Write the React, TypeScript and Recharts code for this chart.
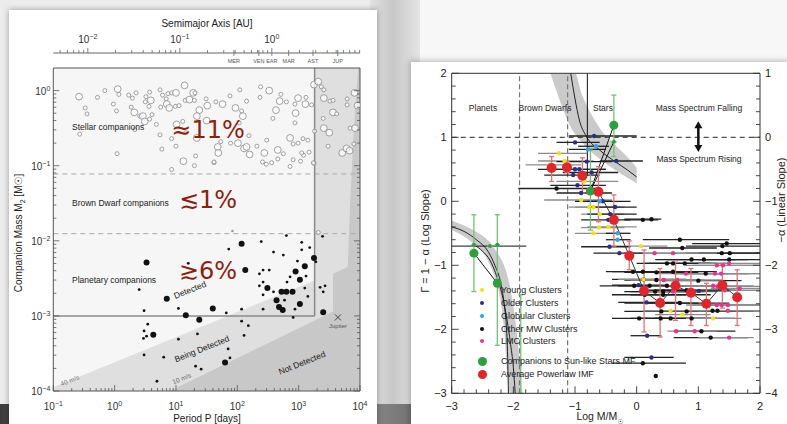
import React from 'react';
import { Area, ComposedChart, ErrorBar, Line, ReferenceLine, Scatter, XAxis, YAxis } from 'recharts';

const FONT = '"Liberation Sans", "DejaVu Sans", Arial, sans-serif';
const ink = '#555';

/* ---------------- left panel: companion mass vs period (log10 values) ---------------- */

// [log P (days), log M2 (Msun), size 1|2]
const stellarCompanions = [
  [-0.58, -0.08, 2], [-0.48, -0.23, 1], [-0.45, -0.31, 1], [-0.57, -0.58, 1], [-0.28, -0.09, 1],
  [-0.16, 0.0, 1], [0.05, 0.02, 2], [0.07, -0.05, 1], [-0.02, -0.18, 1], [0.03, -0.27, 1],
  [0.04, -0.84, 1], [0.23, -0.06, 1], [0.35, -0.03, 1], [0.29, -0.1, 1], [0.27, -0.22, 1],
  [0.32, -0.29, 2], [0.41, -0.34, 1], [0.46, -0.34, 2], [0.49, -0.41, 2], [0.33, -0.52, 1],
  [0.51, -0.08, 1], [0.57, -0.02, 1], [0.59, -0.13, 2], [0.5, -0.15, 1], [0.56, -0.21, 1],
  [0.61, -0.32, 1], [0.57, -0.38, 1], [0.68, -0.45, 1], [0.74, -0.59, 1], [0.74, 0.01, 1],
  [0.78, -0.06, 1], [0.84, -0.11, 1], [0.87, -0.04, 1], [0.93, -0.03, 1], [1.0, -0.03, 2],
  [0.75, -0.22, 1], [0.85, -0.18, 2], [0.89, -0.23, 2], [0.99, -0.21, 1], [1.05, -0.2, 1],
  [1.14, 0.07, 2], [1.15, -0.13, 1], [1.22, -0.12, 2], [1.28, -0.03, 2], [1.31, -0.03, 1],
  [1.3, -0.13, 1], [1.49, -0.11, 1], [1.51, -0.2, 2], [1.38, -0.26, 2], [1.34, -0.34, 2],
  [1.5, -0.4, 2], [1.01, -0.45, 2], [1.11, -0.41, 1], [1.34, -0.63, 2], [1.16, -0.56, 1],
  [0.93, -0.64, 1], [1.0, -0.74, 1], [0.77, -0.78, 1], [1.12, -0.94, 2], [1.32, -0.87, 1],
  [1.3, -1.0, 1], [0.93, -1.05, 1], [1.62, -0.96, 1], [1.68, -0.75, 2], [1.69, -0.83, 2],
  [2.01, -0.7, 2], [2.2, -0.85, 2], [2.44, -0.83, 2], [2.56, -0.96, 1], [2.47, -0.98, 1],
  [2.66, -0.79, 2], [2.66, -0.91, 1], [2.86, -1.01, 1], [3.08, -0.86, 1], [3.17, -0.82, 1],
  [3.25, -0.97, 1], [2.04, 0.01, 1], [2.38, 0.05, 1], [2.52, 0.0, 2], [1.88, -0.07, 1],
  [1.65, -0.15, 1], [1.76, -0.18, 2], [1.97, -0.23, 2], [2.07, -0.27, 1], [2.09, -0.34, 2],
  [2.15, -0.14, 1], [2.37, -0.09, 1], [2.71, -0.05, 1], [2.69, -0.14, 2], [2.63, -0.26, 2],
  [2.8, -0.15, 1], [2.94, -0.18, 1], [2.99, -0.1, 2], [3.12, -0.09, 1], [3.11, -0.18, 2],
  [3.21, -0.19, 1], [2.95, -0.3, 2], [2.58, -0.37, 1], [2.94, -0.43, 1], [2.03, -0.43, 1],
  [2.19, -0.6, 1], [2.48, -0.66, 1], [2.86, -0.63, 2], [3.07, -0.64, 1], [2.91, -0.71, 1],
  [2.99, -0.7, 1], [3.15, -0.66, 1], [1.73, -0.68, 1], [1.89, -0.7, 1], [2.11, -0.77, 2],
  [2.15, -0.75, 2], [2.32, -0.74, 1], [2.75, -0.84, 1], [3.05, -0.83, 1], [2.41, -0.95, 1],
  [2.91, -0.92, 1], [3.03, -0.94, 1], [3.24, -0.96, 1], [1.62, -0.95, 1], [3.25, 0.08, 2],
  [3.32, 0.12, 2], [3.37, 0.05, 1], [3.41, 0.01, 1], [3.41, -0.1, 2], [3.51, -0.14, 1],
  [3.56, -0.13, 1], [3.56, -0.29, 2], [3.62, -0.31, 1], [3.79, -0.11, 1], [3.79, -0.19, 1],
  [3.91, -0.03, 2], [3.96, -0.2, 2], [3.4, -0.37, 1], [3.41, -0.5, 2], [3.5, -0.56, 2],
  [3.26, -0.54, 1], [3.48, -0.74, 1], [3.71, -0.83, 2], [3.78, -0.77, 2], [3.83, -0.8, 2],
  [3.84, -0.5, 1], [3.92, -0.5, 2], [3.9, -0.71, 1],
];

const planetaryCompanions = [
  [0.52, -2.29, 2], [0.4, -2.65, 1], [0.85, -2.77, 2], [0.48, -2.93, 1], [0.54, -3.11, 1],
  [0.48, -3.2, 1], [0.52, -3.27, 1], [0.47, -3.3, 1], [0.63, -3.25, 2], [0.48, -3.52, 1],
  [0.69, -3.87, 1], [0.8, -3.55, 1], [1.04, -2.9, 1], [1.04, -3.31, 1], [1.16, -2.99, 2],
  [1.2, -2.3, 1], [1.32, -3.67, 1], [1.41, -3.71, 1], [1.35, -3.24, 1], [1.38, -3.05, 2],
  [1.6, -2.9, 2], [1.8, -3.62, 2], [1.82, -2.96, 1], [1.85, -3.44, 1], [1.88, -3.56, 1],
  [1.86, -2.11, 1], [2.07, -2.04, 2], [2.07, -2.91, 1], [2.07, -3.07, 1], [2.13, -2.39, 2],
  [2.11, -3.26, 1], [2.18, -3.13, 1], [2.36, -2.44, 1], [2.36, -2.6, 1], [2.39, -2.01, 1],
  [2.42, -2.39, 1], [2.42, -2.55, 1], [2.42, -2.72, 1], [2.49, -2.63, 2], [2.52, -2.39, 1],
  [2.42, -2.91, 1], [2.59, -2.15, 1], [2.59, -2.68, 1], [2.64, -2.79, 2], [2.72, -2.68, 2],
  [2.68, -2.88, 2], [2.74, -2.92, 2], [2.8, -2.68, 2], [2.9, -2.68, 2], [2.77, -2.79, 1],
  [2.75, -2.19, 1], [2.8, -1.93, 1], [2.81, -2.55, 1], [2.86, -2.48, 1], [2.91, -3.02, 1],
  [2.95, -2.41, 2], [2.94, -2.91, 1], [2.98, -2.27, 1], [3.02, -2.52, 2], [3.02, -2.84, 2],
  [3.05, -2.12, 1], [3.05, -2.02, 1], [3.1, -2.34, 2], [3.12, -2.47, 1], [3.1, -2.63, 1],
  [3.15, -2.74, 1], [3.18, -2.09, 1], [3.25, -2.23, 2], [3.28, -2.28, 1], [3.4, -2.95, 2],
  [3.39, -1.94, 1], [3.35, -2.62, 1], [3.43, -2.6, 1], [3.4, -2.68, 1],
];

const marginalDots = [[1.92, -1.87]];
const marginalRings = [[3.32, -1.89]];
const jupiter = [[3.64, -3.02]];

// upper edges of the "being detected" and "not detected" zones
const edge40ms = [[-1, -3.95], [3.26, -2.53], [3.26, 0.302], [4, 0.302]];
const edge10ms = [
  [0.9, -4], [3.56, -2.94], [3.56, -2.44], [3.8, -2.35], [3.84, -1.5], [3.9, -0.5], [3.97, 0.302], [4, 0.302],
];
const baselineLogP = 3.26;
const planetLimitLogM = -3;
const hBurningLogM = -1.11;
const dBurningLogM = -1.905;

const auMajor = [0.01, 0.1, 1];
const auMinor = [
  0.005, 0.006, 0.007, 0.008, 0.009, 0.02, 0.03, 0.04, 0.05, 0.06, 0.07, 0.08, 0.09,
  0.2, 0.3, 0.4, 0.5, 0.6, 0.7, 0.8, 0.9, 2, 3, 4, 5, 6, 7, 8, 9,
];
const solarSystem = [
  { name: 'MER', a: 0.387 }, { name: 'VEN', a: 0.723 }, { name: 'EAR', a: 1 },
  { name: 'MAR', a: 1.524 }, { name: 'AST', a: 2.8 }, { name: 'JUP', a: 5.2 },
];

/* ---------------- right panel: mass-function slope ---------------- */

// [log M, Gamma, log M low, log M high]
const youngClusters = [
  [-1.26, 0.75, -1.6, -0.8], [-1.17, 0.63, -1.6, -0.7], [-1.41, 0.57, -1.8, -0.9], [-0.85, 0.31, -1.3, -0.3],
  [-0.9, 0.02, -1.5, -0.4], [-0.77, -0.09, -1.1, -0.2], [-0.7, -0.09, -1.0, -0.3], [-0.6, -0.2, -0.9, -0.2],
  [-0.61, -0.41, -0.9, -0.2], [-0.46, -0.4, -0.8, 0.0], [-0.7, -0.5, -1.0, -0.3], [0.07, -0.7, -0.4, 0.5],
  [0.11, -1.22, -0.3, 0.6], [0.55, -1.71, 0.1, 1.1], [0.74, -1.77, 0.3, 1.2], [1.24, -1.83, 0.8, 1.7],
];
const olderClusters = [
  [-0.69, 1.02, -1.1, 0.0], [-1.0, 0.92, -1.3, -0.6], [-0.33, 0.63, -0.6, 0.1], [-0.81, 0.62, -1.3, -0.4],
  [-1.0, 0.5, -1.6, -0.5], [-0.93, 0.5, -1.4, -0.5], [-0.73, 0.45, -1.2, -0.3], [-1.03, 0.41, -1.5, -0.6],
  [-0.96, 0.25, -1.4, -0.5], [-0.9, 0.13, -1.3, -0.4], [-0.55, 0.0, -1.0, -0.1], [-0.35, -0.09, -0.8, 0.0],
  [-0.43, -0.2, -0.8, 0.0], [-0.46, -0.29, -0.9, -0.1], [-0.44, -0.71, -0.9, -0.1], [-0.28, -0.81, -0.7, 0.1],
  [0.03, -1.31, -0.4, 0.5], [1.01, -1.4, 0.5, 1.5], [0.16, -1.58, -0.3, 0.7], [0.17, -2.1, -0.1, 0.4],
  [0.24, -2.44, -0.2, 0.6],
];
const globularClusters = [
  [-0.66, 0.86, -0.95, -0.45], [-0.79, 0.81, -1.1, -0.5], [-0.6, 0.0, -0.8, -0.4],
  [-0.31, -0.5, -0.5, -0.1], [-0.31, -0.6, -0.5, -0.1],
];
const otherMWClusters = [
  [-1.3, 0.2, -1.92, -0.64], [0.1, -0.29, -0.2, 0.35], [0.24, -0.28, -0.2, 0.4], [0.7, -0.6, 0.1, 1.5],
  [0.74, -0.73, 0.2, 1.3], [1.39, -0.7, 0.8, 2.0], [1.46, -0.66, 0.9, 2.0], [1.38, -0.81, 0.8, 2.0],
  [1.51, -0.81, 1.0, 2.0], [0.89, -0.91, 0.3, 1.6], [1.09, -0.91, 0.5, 1.8], [1.5, -0.91, 1.0, 2.0],
  [0.49, -0.97, 0.0, 1.2], [0.59, -0.97, 0.1, 1.3], [0.78, -0.97, 0.2, 1.5], [-0.06, -1.1, -0.5, 0.6],
  [0.1, -1.1, -0.4, 0.8], [0.32, -1.11, -0.2, 1.0], [0.59, -1.1, 0.0, 1.3], [1.12, -1.13, 0.6, 1.8],
  [0.11, -1.22, -0.4, 0.8], [0.32, -1.23, -0.2, 1.0], [1.0, -1.24, 0.4, 1.7], [-0.04, -1.32, -0.6, 0.6],
  [0.21, -1.32, -0.3, 0.9], [0.49, -1.32, 0.0, 1.2], [0.81, -1.39, 0.2, 1.5], [0.88, -1.39, 0.3, 1.6],
  [0.3, -1.41, -0.2, 1.0], [0.43, -1.41, -0.1, 1.1], [0.13, -1.46, -0.4, 0.8], [0.43, -1.46, -0.1, 1.2],
  [0.35, -1.59, -0.2, 1.0], [0.7, -1.59, 0.1, 1.5], [0.4, -1.72, -0.2, 1.2], [0.81, -1.72, 0.3, 1.6],
  [1.23, -1.71, 0.7, 1.9], [1.31, -1.71, 0.8, 2.0], [0.04, -1.83, -0.4, 0.6], [0.39, -1.83, -0.1, 1.1],
  [0.55, -1.83, 0.0, 1.3], [0.89, -1.83, 0.3, 1.6], [1.05, -2.03, 0.6, 1.6], [1.2, -2.13, 0.6, 1.8],
  [0.1, -2.53, -0.4, 0.8], [0.31, -2.73, 0.31, 0.31],
];
const lmcClusters = [
  [0.29, -0.81, -0.2, 0.9], [0.59, -0.81, 0.1, 1.3], [1.3, -1.0, 0.8, 2.0], [1.4, -1.0, 0.9, 2.0],
  [1.5, -0.97, 1.0, 2.0], [0.8, -1.13, 0.3, 1.5], [1.27, -1.13, 0.7, 2.0], [1.37, -1.13, 0.8, 2.0],
  [0.44, -1.23, -0.1, 1.1], [0.66, -1.23, 0.1, 1.4], [0.64, -1.32, 0.1, 1.4], [1.24, -1.32, 0.7, 1.9],
  [1.31, -1.33, 0.8, 2.0], [1.43, -1.39, 0.9, 2.0], [1.67, -1.36, 1.2, 2.0], [0.59, -1.41, 0.1, 1.3],
  [1.3, -1.62, 0.8, 2.0], [1.38, -1.62, 0.9, 2.0], [1.48, -1.62, 1.0, 2.0], [1.48, -1.71, 1.0, 2.0],
  [0.64, -2.03, 0.64, 0.64], [0.94, -2.03, 0.5, 1.3], [1.5, -2.13, 1.0, 1.9],
];

// [log M, Gamma, Gamma low, Gamma high, marker 0|1|2]
const companionsMF = [
  [-2.64, -0.81, -1.41, -0.21, 2], [-2.26, -1.28, -2.25, -0.21, 2], [-1.88, -2.23, -3.0, -1.46, 0],
  [-0.75, 0.16, -0.45, 0.8, 2], [-0.37, 1.19, 0.7, 1.66, 2],
  [-2.64, -0.68, -0.68, -0.68, 1], [-2.38, -0.7, -0.7, -0.7, 1], [-2.26, -0.68, -0.68, -0.68, 1],
  [-0.37, 0.93, 0.93, 0.93, 1],
];
// [log M, Gamma, Gamma low, Gamma high]
const averageIMF = [
  [-1.38, 0.52, 0.31, 0.7], [-1.13, 0.53, 0.45, 0.62], [-0.88, 0.4, 0.13, 0.68], [-0.62, 0.15, -0.32, 0.54],
  [-0.37, -0.29, -0.7, 0.1], [-0.12, -0.85, -1.07, -0.62], [0.12, -1.4, -2.04, -0.76], [0.38, -1.59, -2.12, -1.05],
  [0.63, -1.32, -1.86, -0.95], [0.88, -1.43, -1.94, -1.05], [1.13, -1.6, -1.94, -1.28], [1.39, -1.31, -1.67, -0.98],
  [1.63, -1.5, -1.94, -1.07],
];

// companion-mass conversion curves and their uncertainty bands
const starBand = [
  [-1.4, 2.0, 2.0], [-1.3, 1.72, 2.0], [-1.2, 1.45, 2.0], [-1.1, 1.22, 2.0], [-1.0, 1.05, 2.0],
  [-0.9, 0.93, 1.7], [-0.8, 0.83, 1.48], [-0.65, 0.7, 1.22], [-0.5, 0.59, 1.02], [-0.35, 0.49, 0.88],
  [-0.2, 0.4, 0.74], [-0.1, 0.34, 0.64], [0.0, 0.28, 0.52],
];
const starCurve = [
  [-1.07, 2.0], [-1.0, 1.6], [-0.93, 1.27], [-0.82, 1.02], [-0.6, 0.8], [-0.35, 0.62], [-0.15, 0.49], [0.0, 0.38],
];
const planetBand = [
  [-3.0, -0.45, -0.3], [-2.8, -0.55, -0.38], [-2.6, -0.7, -0.48], [-2.4, -0.95, -0.62], [-2.3, -1.2, -0.75],
  [-2.2, -1.6, -0.9], [-2.15, -2.0, -1.0], [-2.1, -2.7, -1.15], [-2.05, -3.0, -1.35], [-2.0, -3.0, -1.65],
  [-1.95, -3.0, -2.0], [-1.9, -3.0, -2.5], [-1.86, -3.0, -3.0],
];
const planetCurveA = [
  [-3.0, -0.4], [-2.8, -0.47], [-2.6, -0.6], [-2.4, -0.8], [-2.3, -1.0], [-2.2, -1.3], [-2.15, -1.6],
  [-2.1, -2.2], [-2.08, -3.0],
];
const planetCurveB = [
  [-2.64, -0.68], [-2.5, -0.78], [-2.38, -0.92], [-2.26, -1.2], [-2.15, -1.6], [-2.05, -2.2], [-2.0, -2.6], [-1.97, -3.0],
];
const guideSegments = [
  [[-0.8, 2.0], [-0.8, 0.4]],
  [[-0.75, 0.16], [-0.37, 1.19]],
  [[-0.75, 0.16], [-0.37, 0.93]],
  [[-2.64, -0.81], [-2.26, -1.28]],
  [[-3.0, -0.7], [-1.79, -0.7]],
  [[1.0, 1.2], [1.0, 0.82]],
];
const arrowTips = [[1.0, 1.25, -1], [1.0, 0.77, 1]];
const planetLimitLogMass = -1.9;
const stellarLimitLogMass = -1.12;

/* ---------------- helpers ---------------- */

const LOG2 = Math.log10(2);
const toLogP = (a: number) => 2.5626 + 1.5 * Math.log10(a);
const isInt = (v: number) => Math.abs(v - Math.round(v)) < 1e-6;
const minus = (n: number) => (n < 0 ? `−${Math.abs(n)}` : `${n}`);
const pts = (rows: number[][]) => rows.map(([x, y, s]) => ({ x, y, s }));
const range = (rows: number[][]) => rows.map(([x, lo, hi]) => ({ x, y: [lo, hi] }));
const hbars = (rows: number[][]) => rows.map(([x, y, lo, hi]) => ({ x, y, e: [x - lo, hi - x] }));
const vbars = (rows: number[][]) => rows.map(([x, y, lo, hi, s]) => ({ x, y, e: [y - lo, hi - y], s }));

const minorLog = [2, 3, 4, 5, 6, 7, 8, 9].map((k) => Math.log10(k));
const logTicks = (from: number, to: number) => {
  const out: number[] = [];
  for (let d = from; d < to; d++) {
    out.push(d);
    minorLog.forEach((m) => out.push(d + m));
  }
  out.push(to);
  return out;
};
const periodTicks = logTicks(-1, 4);
const massTicks = logTicks(-4, 0);
const auTicks = [...auMajor, ...auMinor, ...solarSystem.map((p) => p.a)]
  .map(toLogP)
  .filter((v) => v >= -1 && v <= 4)
  .sort((a, b) => a - b)
  .filter((v, i, arr) => i === 0 || Math.abs(v - arr[i - 1]) > 1e-6);
const stepTicks = (from: number, n: number) => Array.from({ length: n }, (_, i) => Math.round((from + i * 0.2) * 10) / 10);
const massAxisTicks = stepTicks(-3, 26);
const gammaTicks = stepTicks(-3, 26);
const linearTicks = stepTicks(-4, 26);

type Side = 'left' | 'right' | 'top' | 'bottom';

function logTick(side: Side, labelled: boolean) {
  return (p: any) => {
    const { x, y, payload } = p;
    const v = payload.value;
    const major = isInt(v);
    const len = major ? 6 : 3;
    const x2 = side === 'left' ? x + len : side === 'right' ? x - len : x;
    const y2 = side === 'top' ? y + len : side === 'bottom' ? y - len : y;
    const exp = minus(Math.round(v));
    return (
      <g>
        <line x1={x} y1={y} x2={x2} y2={y2} stroke={ink} strokeWidth={0.8} />
        {labelled && major && side === 'left' && (
          <text x={x - 3} y={y + 4} textAnchor="end" fontSize={10} fill="#333">
            10<tspan dy={-4} fontSize={7}>{exp}</tspan>
          </text>
        )}
        {labelled && major && side === 'bottom' && (
          <text x={x} y={y + 19} textAnchor="middle" fontSize={10} fill="#333">
            10<tspan dy={-4} fontSize={7}>{exp}</tspan>
          </text>
        )}
      </g>
    );
  };
}

// ticks of the semimajor-axis scale; drawn upward from the axis line, planet names below it
function semiTick(p: any) {
  const { x, y, payload } = p;
  const v = payload.value;
  const major = auMajor.find((a) => Math.abs(toLogP(a) - v) < 1e-6);
  const planet = solarSystem.find((s) => Math.abs(toLogP(s.a) - v) < 1e-6);
  return (
    <g>
      <line x1={x} y1={y} x2={x} y2={y - (major ? 5 : 3)} stroke="#666" strokeWidth={0.8} />
      {major !== undefined && (
        <text x={x} y={y - 10} textAnchor="middle" fontSize={10} fill="#333">
          10<tspan dy={-4} fontSize={7}>{minus(Math.round(Math.log10(major)))}</tspan>
        </text>
      )}
      {planet && (
        <>
          <line x1={x} y1={y} x2={x} y2={y + 3} stroke="#666" strokeWidth={0.8} />
          <text x={x} y={y + 10} textAnchor="middle" fontSize={5.5} fill="#555">{planet.name}</text>
        </>
      )}
    </g>
  );
}

function linTick(side: Side, labelled: boolean) {
  return (p: any) => {
    const { x, y, payload } = p;
    const v = payload.value;
    const major = isInt(v);
    const len = major ? 7 : 4;
    const x2 = side === 'left' ? x + len : side === 'right' ? x - len : x;
    const y2 = side === 'top' ? y + len : side === 'bottom' ? y - len : y;
    const label = minus(Math.round(v));
    return (
      <g>
        <line x1={x} y1={y} x2={x2} y2={y2} stroke="#333" strokeWidth={0.9} />
        {labelled && major && side === 'left' && (
          <text x={x - 5} y={y + 4} textAnchor="end" fontSize={11} fill="#222">{label}</text>
        )}
        {labelled && major && side === 'right' && (
          <text x={x + 5} y={y + 4} textAnchor="start" fontSize={11} fill="#222">{label}</text>
        )}
        {labelled && major && side === 'bottom' && (
          <text x={x} y={y + 17} textAnchor="middle" fontSize={11} fill="#222">{label}</text>
        )}
      </g>
    );
  };
}

const Note = ({ x, y, size = 8.5, color = '#222', rotate = 0, start = false, children, family }: any) => (
  <div
    style={{
      position: 'absolute', left: x, top: y, fontSize: size, color, lineHeight: 1, whiteSpace: 'nowrap',
      transform: `translate(${start ? '0' : '-50%'}, -50%) rotate(${rotate}deg)`, fontFamily: family,
    }}
  >
    {children}
  </div>
);

/* ---------------- left chart ---------------- */

function CompanionPanel() {
  const ring = (p: any) => (
    <circle cx={p.cx} cy={p.cy} r={p.payload.s === 2 ? 3.4 : 2} fill="#fff" fillOpacity={0.7} stroke="#8a8a8a" strokeWidth={0.8} />
  );
  const dot = (p: any) => <circle cx={p.cx} cy={p.cy} r={p.payload.s === 2 ? 3 : 1.4} fill="#111" />;
  const cross = (p: any) => (
    <g stroke="#444" strokeWidth={1}>
      <line x1={p.cx - 3} y1={p.cy - 3} x2={p.cx + 3} y2={p.cy + 3} />
      <line x1={p.cx - 3} y1={p.cy + 3} x2={p.cx + 3} y2={p.cy - 3} />
    </g>
  );
  const ax = { xAxisId: 'b', yAxisId: 'l' };
  return (
    <>
      <div style={{ position: 'absolute', left: 53, top: 68, width: 307, height: 323, background: '#f6f6f6' }} />
      {/* semimajor-axis scale, a separate strip above the frame */}
      <div style={{ position: 'absolute', left: 0, top: 0 }}>
        <ComposedChart width={380} height={72} margin={{ top: 52, right: 20, bottom: 6, left: 53.3 }}>
          <XAxis xAxisId="a" orientation="top" type="number" dataKey="x" domain={[-1, 4]} allowDataOverflow ticks={auTicks}
            interval={0} tickSize={0} tickMargin={0} height={1} tick={semiTick} stroke="#666" />
          <YAxis yAxisId="a" type="number" dataKey="y" domain={[0, 1]} hide />
          <Scatter xAxisId="a" yAxisId="a" data={[]} dataKey="y" isAnimationActive={false} />
        </ComposedChart>
      </div>
      <div style={{ position: 'absolute', left: 0, top: 0 }}>
        <ComposedChart width={380} height={424} margin={{ top: 67, right: 19, bottom: 3, left: 8.3 }}>
          <XAxis xAxisId="b" type="number" dataKey="x" domain={[-1, 4]} allowDataOverflow ticks={periodTicks}
            interval={0} tickSize={0} tickMargin={0} height={30} tick={logTick('bottom', true)} stroke={ink} />
          <XAxis xAxisId="t" orientation="top" type="number" domain={[-1, 4]} allowDataOverflow ticks={periodTicks}
            interval={0} tickSize={0} tickMargin={0} height={1} tick={logTick('top', false)} stroke={ink} />
          <YAxis yAxisId="l" type="number" dataKey="y" domain={[-4, LOG2]} allowDataOverflow ticks={massTicks}
            interval={0} tickSize={0} tickMargin={0} width={45} tick={logTick('left', true)} stroke={ink} />
          <YAxis yAxisId="r" orientation="right" type="number" domain={[-4, LOG2]} allowDataOverflow ticks={massTicks}
            interval={0} tickSize={0} tickMargin={0} width={1} tick={logTick('right', false)} stroke={ink} />

          <Area {...ax} data={range(edge40ms.map(([x, y]) => [x, -4, y]))} dataKey="y" type="linear"
            fill="#dfdfdf" fillOpacity={1} stroke="none" isAnimationActive={false} />
          <Area {...ax} data={range(edge10ms.map(([x, y]) => [x, -4, y]))} dataKey="y" type="linear"
            fill="#c8c8c8" fillOpacity={1} stroke="none" isAnimationActive={false} />

          <ReferenceLine {...ax} y={hBurningLogM} stroke="#aaa" strokeDasharray="5 4" />
          <ReferenceLine {...ax} y={dBurningLogM} stroke="#aaa" strokeDasharray="5 4" />
          <ReferenceLine {...ax} segment={[{ x: -1, y: planetLimitLogM }, { x: baselineLogP, y: planetLimitLogM }]}
            stroke="#8a8a8a" strokeWidth={1.5} />
          <ReferenceLine {...ax} segment={[{ x: baselineLogP, y: planetLimitLogM }, { x: baselineLogP, y: LOG2 }]}
            stroke="#8a8a8a" strokeWidth={1.5} />

          <Scatter {...ax} data={pts(stellarCompanions)} dataKey="y" shape={ring} isAnimationActive={false} />
          <Scatter {...ax} data={pts(marginalRings)} dataKey="y" shape={ring} isAnimationActive={false} />
          <Scatter {...ax} data={pts(planetaryCompanions)} dataKey="y" shape={dot} isAnimationActive={false} />
          <Scatter {...ax} data={pts(marginalDots)} dataKey="y" isAnimationActive={false}
            shape={(p: any) => <circle cx={p.cx} cy={p.cy} r={1.3} fill="#999" />} />
          <Scatter {...ax} data={pts(jupiter)} dataKey="y" shape={cross} isAnimationActive={false} />
        </ComposedChart>
      </div>

      <Note x={207} y={24} size={10}>Semimajor Axis [AU]</Note>
      <Note x={207} y={419} size={10}>Period P [days]</Note>
      <Note x={20} y={233} size={10} rotate={-90}>Companion Mass M<sub style={{ fontSize: 7 }}>2</sub> [M☉]</Note>

      <Note x={72} y={127} start>Stellar companions</Note>
      <Note x={72} y={203} start>Brown Dwarf companions</Note>
      <Note x={72} y={280} start>Planetary companions</Note>
      <Note x={208} y={130} size={24} color="#8c1f10" family='"DejaVu Sans", sans-serif'>≈11%</Note>
      <Note x={208} y={200} size={24} color="#8c1f10" family='"DejaVu Sans", sans-serif'>≲1%</Note>
      <Note x={208} y={271} size={24} color="#8c1f10" family='"DejaVu Sans", sans-serif'>≳6%</Note>
      <Note x={190} y={290} rotate={-22}>Detected</Note>
      <Note x={202} y={349} rotate={-22}>Being Detected</Note>
      <Note x={302} y={363} rotate={-22}>Not Detected</Note>
      <Note x={70} y={381} size={6.5} color="#777" rotate={-22}>40 m/s</Note>
      <Note x={182} y={379} size={6.5} color="#666" rotate={-22}>10 m/s</Note>
      <Note x={338} y={326} size={6} color="#555">Jupiter</Note>
    </>
  );
}

/* ---------------- right chart ---------------- */

const legendRows = [
  { label: 'Young Clusters', color: '#f2e01a', r: 2, y: 290 },
  { label: 'Older Clusters', color: '#2a2f86', r: 2, y: 303 },
  { label: 'Globular Clusters', color: '#2fa4e7', r: 2, y: 316 },
  { label: 'Other MW Clusters', color: '#111', r: 2, y: 329 },
  { label: 'LMC Clusters', color: '#e2388a', r: 2, y: 341 },
  { label: 'Companions to Sun-like Stars MF', color: '#2e9e3e', r: 4.5, y: 361 },
  { label: 'Average Powerlaw IMF', color: '#e0262a', r: 4.5, y: 374 },
];

function SlopePanel() {
  const ax = { xAxisId: 'b', yAxisId: 'l' };
  const clusterSeries = [
    { rows: otherMWClusters, color: '#111', line: '#222' },
    { rows: lmcClusters, color: '#e2388a', line: '#8c8c8c' },
    { rows: youngClusters, color: '#f2e01a', line: '#8c8c8c' },
    { rows: olderClusters, color: '#2a2f86', line: '#222' },
    { rows: globularClusters, color: '#2fa4e7', line: '#222' },
  ];
  return (
    <>
      <div style={{ position: 'absolute', left: 400, top: 40 }}>
        <ComposedChart width={387} height={384} margin={{ top: 32.3, right: 0, bottom: 0.7, left: 11.7 }}>
          <XAxis xAxisId="b" type="number" dataKey="x" domain={[-3, 2]} allowDataOverflow ticks={massAxisTicks}
            interval={0} tickSize={0} tickMargin={0} height={30} tick={linTick('bottom', true)} stroke="#333" />
          <XAxis xAxisId="t" orientation="top" type="number" domain={[-3, 2]} allowDataOverflow ticks={massAxisTicks}
            interval={0} tickSize={0} tickMargin={0} height={1} tick={linTick('top', false)} stroke="#333" />
          <YAxis yAxisId="l" type="number" dataKey="y" domain={[-3, 2]} allowDataOverflow ticks={gammaTicks}
            interval={0} tickSize={0} tickMargin={0} width={40} tick={linTick('left', true)} stroke="#333" />
          <YAxis yAxisId="r" orientation="right" type="number" domain={[-4, 1]} allowDataOverflow ticks={linearTicks}
            interval={0} tickSize={0} tickMargin={0} width={27} tick={linTick('right', true)} stroke="#333" />

          <Area {...ax} data={range(starBand)} dataKey="y" type="monotone" fill="#c4c4c4" fillOpacity={0.9}
            stroke="none" isAnimationActive={false} />
          <Area {...ax} data={range(planetBand)} dataKey="y" type="monotone" fill="#c4c4c4" fillOpacity={0.9}
            stroke="none" isAnimationActive={false} />
          {[starCurve, planetCurveA, planetCurveB].map((c, i) => (
            <Line key={`c${i}`} {...ax} data={pts(c)} dataKey="y" type="monotone" stroke="#222" strokeWidth={1}
              dot={false} activeDot={false} isAnimationActive={false} />
          ))}
          {guideSegments.map((s, i) => (
            <Line key={`g${i}`} {...ax} data={pts(s)} dataKey="y" type="linear" stroke="#111"
              strokeWidth={i === guideSegments.length - 1 ? 2.5 : 1} dot={false} activeDot={false} isAnimationActive={false} />
          ))}

          <ReferenceLine {...ax} x={planetLimitLogMass} stroke="#777" strokeDasharray="5 3" strokeWidth={1.2} />
          <ReferenceLine {...ax} x={stellarLimitLogMass} stroke="#777" strokeDasharray="5 3" strokeWidth={1.2} />
          <ReferenceLine {...ax} y={1} stroke="#222" strokeDasharray="5 4" strokeWidth={1} />

          {clusterSeries.map((c, i) => (
            <Scatter key={`s${i}`} {...ax} data={hbars(c.rows)} dataKey="y" isAnimationActive={false}
              shape={(p: any) => <circle cx={p.cx} cy={p.cy} r={2.2} fill={c.color} />}>
              <ErrorBar dataKey="e" direction="x" width={0} stroke={c.line} strokeWidth={1.3} />
            </Scatter>
          ))}

          <Line {...ax} data={pts(averageIMF.slice(3))} dataKey="y" type="linear" stroke="#333" strokeWidth={1}
            dot={false} activeDot={false} isAnimationActive={false} />
          <Scatter {...ax} data={vbars(companionsMF)} dataKey="y" isAnimationActive={false}
            shape={(p: any) => (p.payload.s ? <circle cx={p.cx} cy={p.cy} r={p.payload.s === 2 ? 4.5 : 2} fill="#2e9e3e" /> : <g />)}>
            <ErrorBar dataKey="e" direction="y" width={2.5} stroke="#72c272" strokeWidth={1.3} />
          </Scatter>
          <Scatter {...ax} data={vbars(averageIMF)} dataKey="y" isAnimationActive={false}
            shape={(p: any) => <circle cx={p.cx} cy={p.cy} r={5} fill="#e0262a" />}>
            <ErrorBar dataKey="e" direction="y" width={2.5} stroke="#e87074" strokeWidth={1.3} />
          </Scatter>
          <Scatter {...ax} data={pts(arrowTips)} dataKey="y" isAnimationActive={false}
            shape={(p: any) => {
              const base = p.cy - p.payload.s * 7;
              return <polygon points={`${p.cx},${p.cy} ${p.cx - 4},${base} ${p.cx + 4},${base}`} fill="#111" />;
            }} />
        </ComposedChart>
      </div>

      <Note x={483} y={108}>Planets</Note>
      <Note x={545} y={108}>Brown Dwarfs</Note>
      <Note x={603} y={108}>Stars</Note>
      <Note x={699} y={108}>Mass Spectrum Falling</Note>
      <Note x={699} y={159}>Mass Spectrum Rising</Note>

      {legendRows.map((r) => (
        <React.Fragment key={r.label}>
          <div style={{ position: 'absolute', left: 482 - r.r, top: r.y - r.r, width: r.r * 2, height: r.r * 2, borderRadius: '50%', background: r.color }} />
          <Note x={501} y={r.y} size={9} start>{r.label}</Note>
        </React.Fragment>
      ))}

      <Note x={600} y={418} size={10.5}>Log M/M<sub style={{ fontSize: 7 }}>☉</sub></Note>
      <Note x={425} y={241} size={11} rotate={-90}>Γ = 1 − α (Log Slope)</Note>
      <Note x={781} y={200} size={11} rotate={-90}>−α (Linear Slope)</Note>
    </>
  );
}

export default function App() {
  return (
    <div style={{ position: 'absolute', left: 0, top: 0, width: 787, height: 424, overflow: 'hidden', background: '#ececec', fontFamily: FONT }}>
      <div style={{ position: 'absolute', left: 370, top: 0, width: 50, height: 424, background: 'linear-gradient(90deg,#e2e2e2,#c8c8c8 45%,#e4e4e4)' }} />
      <div style={{ position: 'absolute', left: 420, top: 0, width: 367, height: 62, background: '#f7f7f7' }} />
      <div style={{ position: 'absolute', left: 0, top: 404, width: 420, height: 20, background: 'linear-gradient(90deg,#3c3c3c,#8c8c8c 20%,#9a9a9a 80%,#6e6e6e)' }} />
      <div style={{ position: 'absolute', left: 9, top: 10, width: 368, height: 420, background: '#fff', boxShadow: '0 0 6px rgba(0,0,0,0.35)' }} />
      <div style={{ position: 'absolute', left: 411, top: 62, width: 380, height: 370, background: '#fff', boxShadow: '-1px -1px 6px rgba(0,0,0,0.25)' }} />
      <CompanionPanel />
      <SlopePanel />
    </div>
  );
}
